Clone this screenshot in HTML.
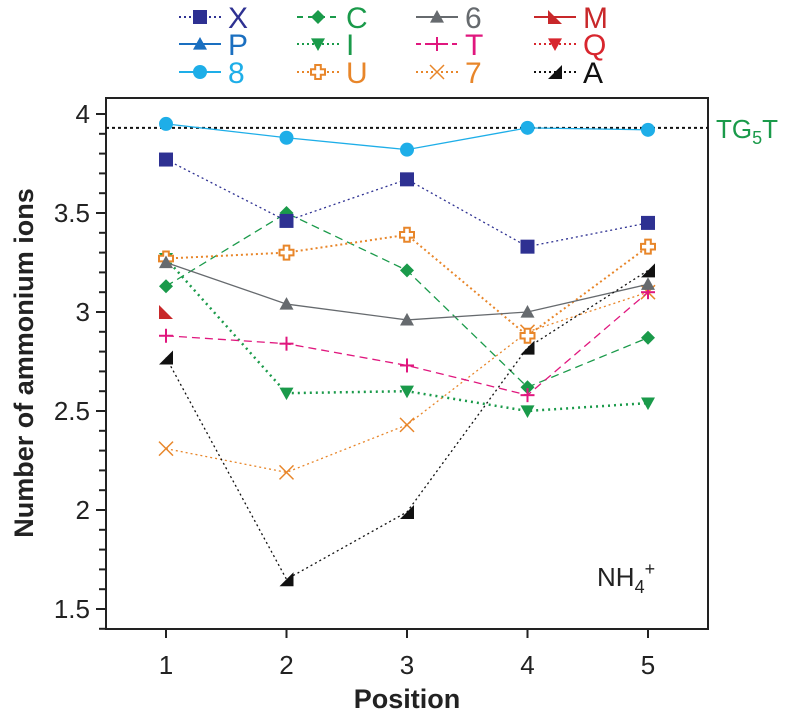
<!DOCTYPE html>
<html><head><meta charset="utf-8"><style>
html,body{margin:0;padding:0;background:#fff;}
svg{display:block;font-family:"Liberation Sans",sans-serif;}
</style></head><body>
<svg id="chart" width="796" height="717" viewBox="0 0 796 717" xmlns="http://www.w3.org/2000/svg"></svg>
<script>
const positions=[1,2,3,4,5];
const yTicks=[1.5,2,2.5,3,3.5,4];
const yTickLabels=["1.5","2","2.5","3","3.5","4"];
const sX=[3.77,3.46,3.67,3.33,3.45];
const s8=[3.95,3.88,3.82,3.93,3.92];
const s6=[3.25,3.04,2.96,3.00,3.14];
const sM=[3.00,null,null,null,null];
const sT=[2.88,2.84,2.73,2.58,3.10];
const sU=[3.27,3.30,3.39,2.88,3.33];
const s7=[2.31,2.19,2.43,2.90,3.10];
const sA=[2.77,1.65,1.99,2.82,3.21];
const sI=[3.27,2.59,2.60,2.50,2.54];
const sC=[3.13,3.50,3.21,2.62,2.87];
const refValue=3.93;

const NS="http://www.w3.org/2000/svg";
const svg=document.getElementById('chart');
const L=106,R=708,T=98,B=629;
function xs(p){return 166+(p-1)*120.5;}
function ys(v){return 510-(v-2)*198;}
function mk(tag,attrs,parent){const e=document.createElementNS(NS,tag);for(const k in attrs)e.setAttribute(k,attrs[k]);(parent||svg).appendChild(e);return e;}

let box=mk('rect',{x:L,y:T,width:R-L,height:B-T,fill:'none',stroke:'#222','stroke-width':2});


for(let i=14;i<=40;i++){const v=i/10;const y=ys(v);if(y<T||y>B)continue;
 const major=(i%5===0);
 const t=mk('line',{x1:L-(major?10:7),x2:L,y1:y,y2:y,stroke:'#222','stroke-width':2});
 
 }
yTicks.forEach((v,i)=>{const t=mk('text',{x:L-16,y:ys(v)+9,'text-anchor':'end','font-size':26,fill:'#222'});t.textContent=yTickLabels[i];
 
 });
positions.forEach(p=>{const t=mk('line',{x1:xs(p),x2:xs(p),y1:B,y2:B+9,stroke:'#222','stroke-width':2});
 
 
 const l=mk('text',{x:xs(p),y:B+45,'text-anchor':'middle','font-size':26,fill:'#222'});l.textContent=p;
 
 });
let xt=mk('text',{x:407,y:708,'text-anchor':'middle','font-size':27,'font-weight':'bold',fill:'#222'});xt.textContent='Position';


let yt=mk('text',{x:0,y:0,'text-anchor':'middle','font-size':27,'font-weight':'bold',fill:'#222',transform:'translate(33,363) rotate(-90)'});yt.textContent='Number of ammonium ions';



let rl=mk('line',{x1:L,x2:R,y1:ys(refValue),y2:ys(refValue),stroke:'#111','stroke-width':2,'stroke-dasharray':'3,3'});


let rt=mk('text',{x:716,y:ys(refValue)+10,'font-size':26,fill:'#1a9a4a'});
rt.innerHTML='TG<tspan font-size="18" dy="6">5</tspan><tspan dy="-6">T</tspan>';


let nh=mk('text',{x:597,y:586,'font-size':26,fill:'#222'});
nh.innerHTML='NH<tspan font-size="18" dy="7">4</tspan><tspan font-size="18" dy="-18">+</tspan>';



function marker(g,type,x,y,c,s){
 s=s||7;
 if(type==='square')mk('rect',{x:x-s,y:y-s,width:2*s,height:2*s,fill:c},g);
 else if(type==='circle')mk('circle',{cx:x,cy:y,r:s,fill:c},g);
 else if(type==='diamond')mk('polygon',{points:`${x},${y-s} ${x+s},${y} ${x},${y+s} ${x-s},${y}`,fill:c},g);
 else if(type==='tri')mk('polygon',{points:`${x},${y-s} ${x+s},${y+s*0.8} ${x-s},${y+s*0.8}`,fill:c},g);
 else if(type==='tridown')mk('polygon',{points:`${x-s},${y-s*0.8} ${x+s},${y-s*0.8} ${x},${y+s}`,fill:c},g);
 else if(type==='rtri')mk('polygon',{points:`${x-s},${y-s} ${x+s},${y+s} ${x-s},${y+s}`,fill:c},g);
 else if(type==='ltri')mk('polygon',{points:`${x+s},${y-s} ${x+s},${y+s} ${x-s},${y+s}`,fill:c},g);
 else if(type==='plus'){mk('line',{x1:x-s,x2:x+s,y1:y,y2:y,stroke:c,'stroke-width':2},g);mk('line',{x1:x,x2:x,y1:y-s,y2:y+s,stroke:c,'stroke-width':2},g);}
 else if(type==='cross'){mk('line',{x1:x-s,x2:x+s,y1:y-s,y2:y+s,stroke:c,'stroke-width':1.5},g);mk('line',{x1:x-s,x2:x+s,y1:y+s,y2:y-s,stroke:c,'stroke-width':1.5},g);}
 else if(type==='oplus'){const a=s*0.4;mk('path',{d:`M${x-a},${y-s}h${2*a}v${s-a}h${s-a}v${2*a}h${-(s-a)}v${s-a}h${-2*a}v${-(s-a)}h${-(s-a)}v${-2*a}h${s-a}z`,fill:'#fff',stroke:c,'stroke-width':2},g);}
}
const series=[
 {name:'C',data:sC,color:'#1a9a4a',dash:'8,5',m:'diamond',w:1.3},
 {name:'I',data:sI,color:'#1a9a4a',dash:'2,4',m:'tridown',w:2.5},
 {name:'7',data:s7,color:'#e8862a',dash:'2,3',m:'cross',w:1.3},
 {name:'U',data:sU,color:'#e8862a',dash:'2,3',m:'oplus',w:2},
 {name:'T',data:sT,color:'#e0177e',dash:'8,5',m:'plus',w:1.3},
 {name:'6',data:s6,color:'#666a6e',dash:'',m:'tri',w:1.3},
 {name:'A',data:sA,color:'#111',dash:'2,3',m:'ltri',w:1.3},
 {name:'M',data:sM,color:'#c8282a',dash:'',m:'rtri',w:1.3},
 {name:'X',data:sX,color:'#2e3192',dash:'2,3',m:'square',w:1.3},
 {name:'8',data:s8,color:'#1eaee8',dash:'',m:'circle',w:1.3},
];
series.forEach(s=>{
 const g=mk('g',{});
 
 
 const pts=[];s.data.forEach((v,i)=>{if(v!==null)pts.push([xs(positions[i]),ys(v)]);});
 if(pts.length>1){const pl=mk('polyline',{points:pts.map(p=>p.join(',')).join(' '),fill:'none',stroke:s.color,'stroke-width':s.w,'stroke-dasharray':s.dash},g);
  
  }
 pts.forEach(p=>marker(g,s.m,p[0],p[1],s.color,7));
});

const legNames=[['X','P','8'],['C','I','U'],['6','T','7'],['M','Q','A']];
const legColors=[['#2e3192','#1a6fc0','#1eaee8'],['#1a9a4a','#1a9a4a','#e8862a'],['#666a6e','#e0177e','#e8862a'],['#c8282a','#d8262e','#111']];
const legMarkers=[['square','tri','circle'],['diamond','tridown','oplus'],['tri','plus','cross'],['rtri','tridown','ltri']];
const legDash=[['2,3','',''],['6,5','2,3','2,3'],['','5,4','2,3'],['','2,3','2,3']];
const colX=[179,297,416,534],rowY=[17,44,72];
legNames.forEach((col,ci)=>col.forEach((n,ri)=>{
 const g=mk('g',{});
 
 
 const x=colX[ci],y=rowY[ri],c=legColors[ci][ri];
 mk('line',{x1:x,x2:x+42,y1:y,y2:y,stroke:c,'stroke-width':2,'stroke-dasharray':legDash[ci][ri]},g);
 marker(g,legMarkers[ci][ri],x+21,y,c,7);
 const t=mk('text',{x:x+49,y:y+11,'font-size':30,fill:c},g);t.textContent=n;
}));
</script>
</body></html>
